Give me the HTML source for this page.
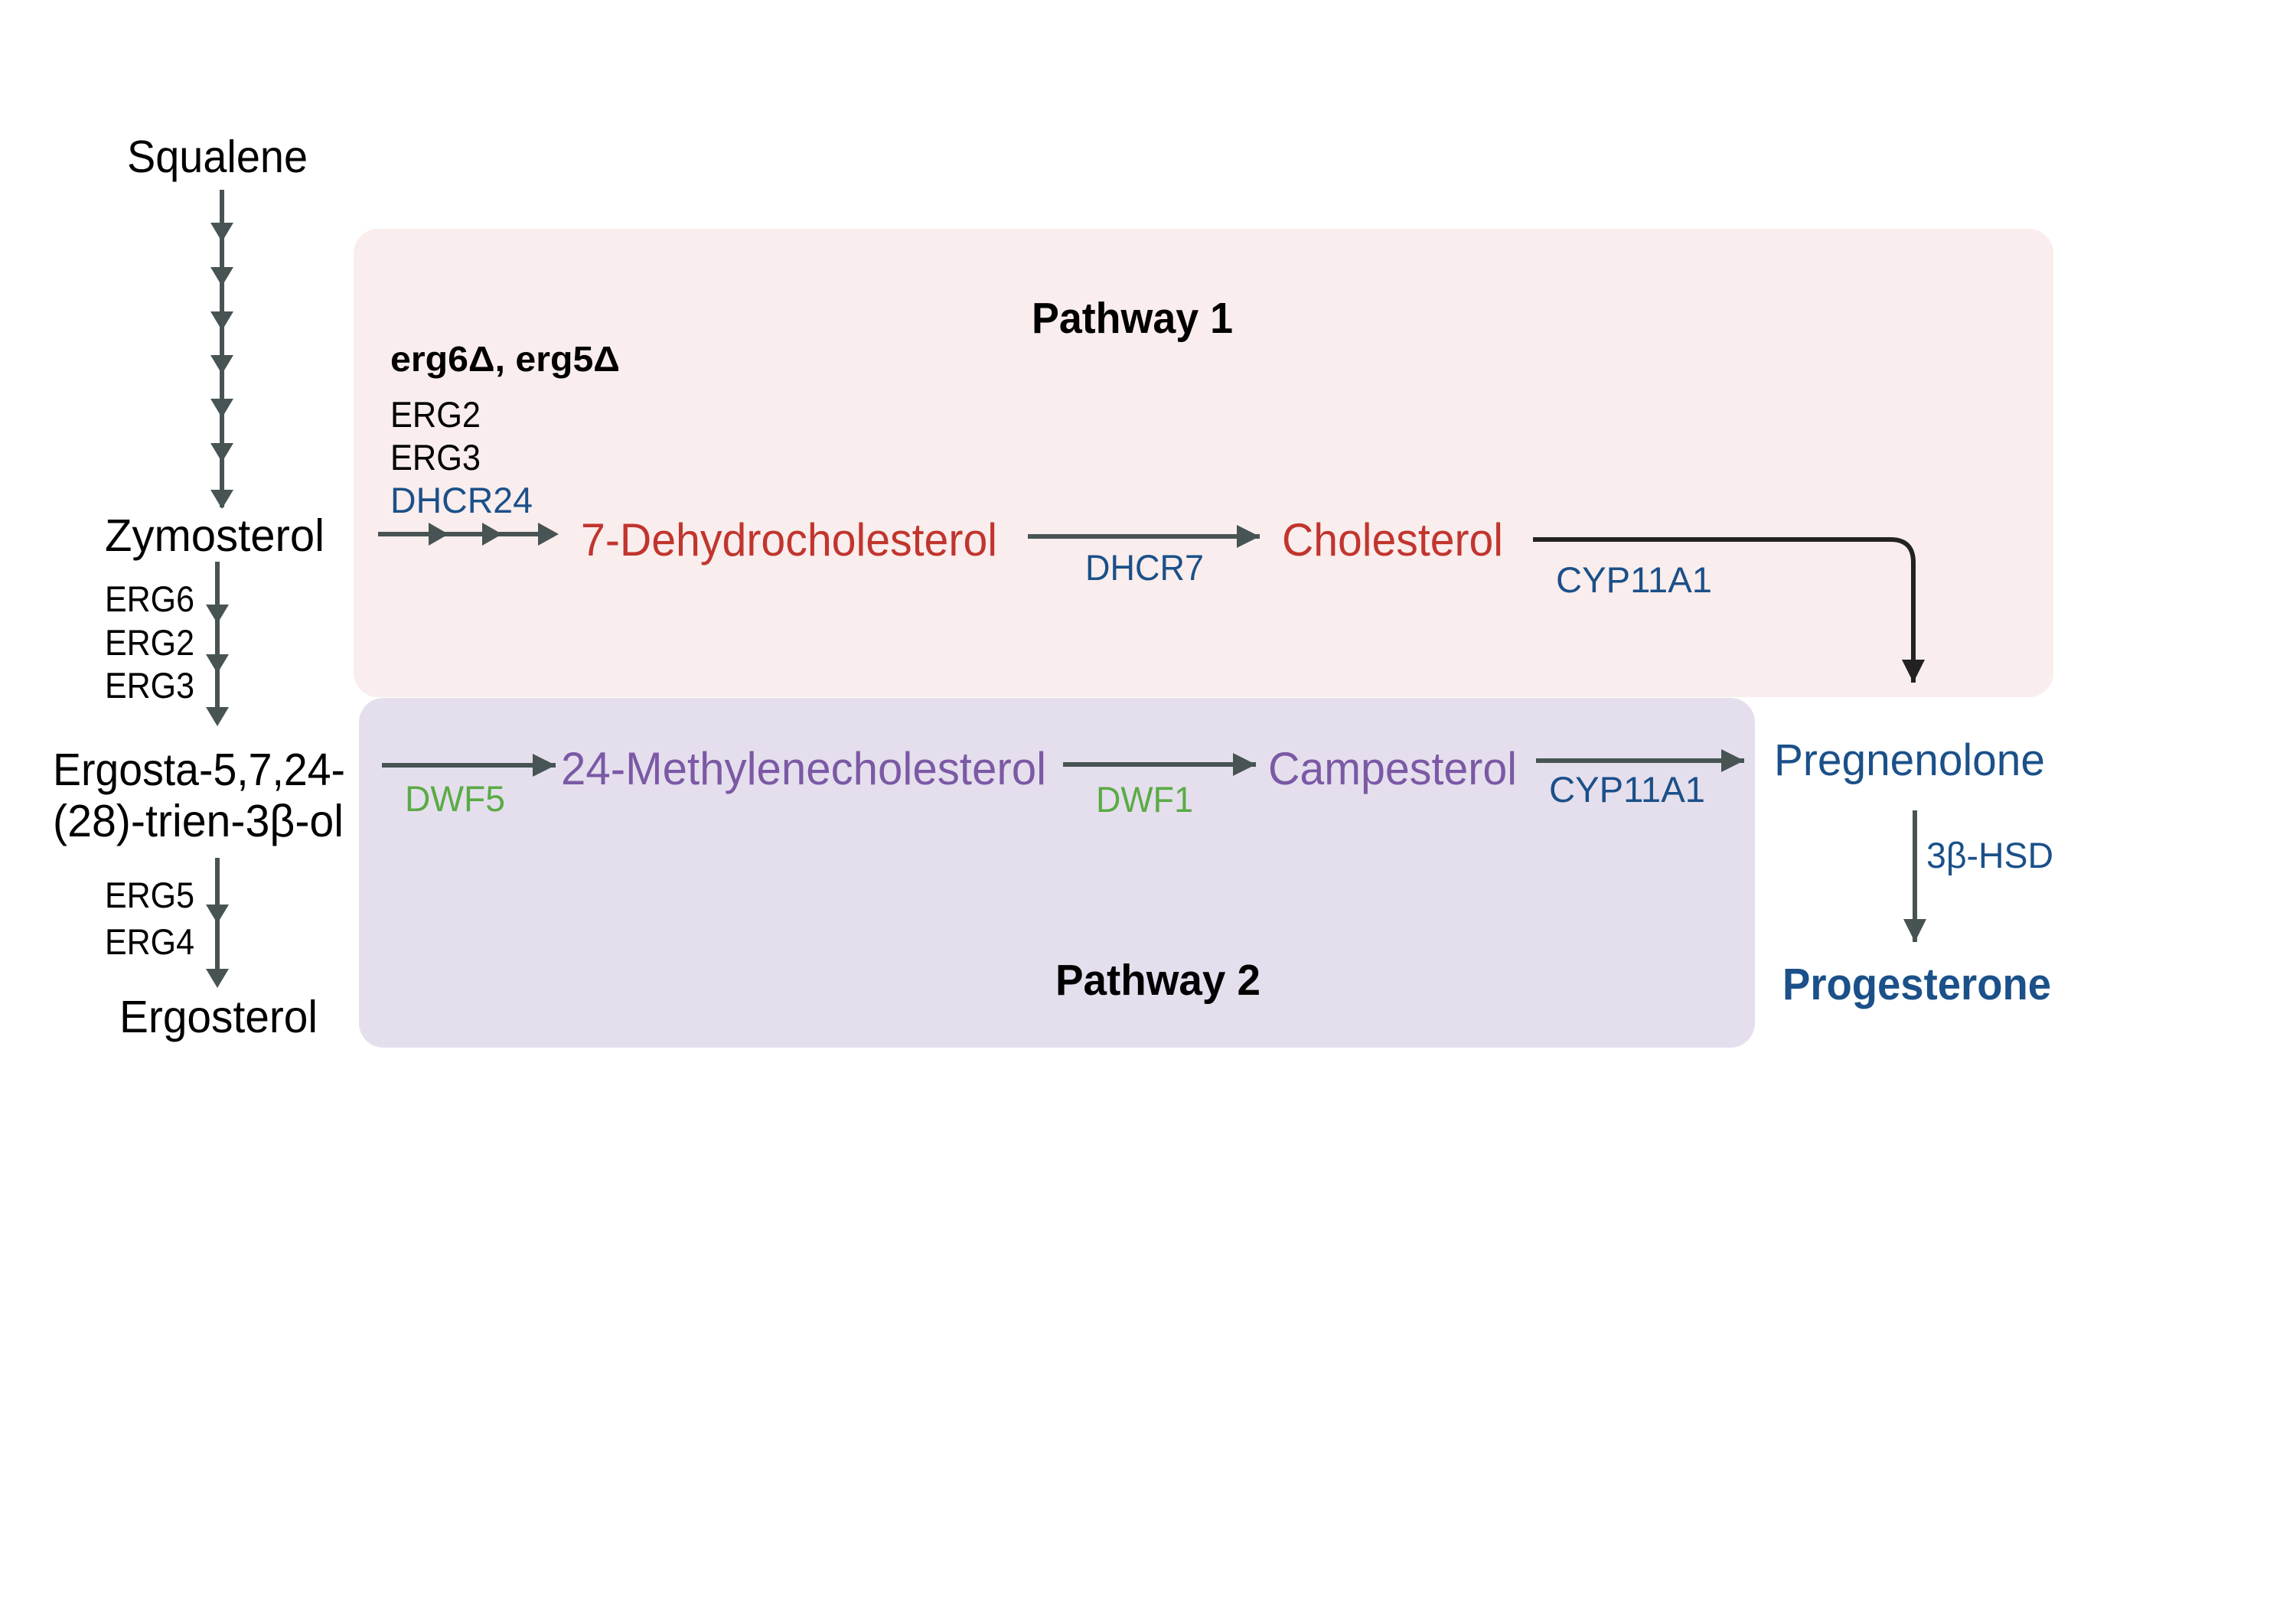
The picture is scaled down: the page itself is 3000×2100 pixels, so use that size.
<!DOCTYPE html>
<html><head><meta charset="utf-8"><style>
html,body{margin:0;padding:0;background:#fff;}
svg{display:block;}
text{font-family:"Liberation Sans",Arial,sans-serif;}
</style></head><body>
<svg width="3000" height="2100" viewBox="0 0 3000 2100" xmlns="http://www.w3.org/2000/svg">
<defs>
<marker id="ag" viewBox="0 0 30 30" refX="30" refY="15" markerWidth="30" markerHeight="30" markerUnits="userSpaceOnUse" orient="auto"><path d="M0,0 L30,15 L0,30 Z" fill="#475453"/></marker>
<marker id="ak" viewBox="0 0 30 30" refX="30" refY="15" markerWidth="30" markerHeight="30" markerUnits="userSpaceOnUse" orient="auto"><path d="M0,0 L30,15 L0,30 Z" fill="#222"/></marker>
</defs>
<rect x="0" y="0" width="3000" height="2100" fill="#fff"/>
<rect x="462" y="299" width="2221" height="612" rx="32" fill="#f9eded"/>
<rect x="469" y="912" width="1824" height="457" rx="32" fill="#e5dfed"/>

<g fill="#475453">
<rect x="287" y="248" width="6" height="415"/>
<path d="M275,291 L305,291 L290,316 Z"/>
<path d="M275,349 L305,349 L290,374 Z"/>
<path d="M275,407 L305,407 L290,432 Z"/>
<path d="M275,464 L305,464 L290,489 Z"/>
<path d="M275,521 L305,521 L290,546 Z"/>
<path d="M275,579 L305,579 L290,604 Z"/>
<path d="M275,640 L305,640 L290,665 Z"/>

<rect x="281" y="734" width="6" height="210"/>
<path d="M269,790 L299,790 L284,815 Z"/>
<path d="M269,855 L299,855 L284,880 Z"/>
<path d="M269,924 L299,924 L284,949 Z"/>

<rect x="281" y="1121" width="6" height="165"/>
<path d="M269,1182 L299,1182 L284,1207 Z"/>
<path d="M269,1266 L299,1266 L284,1291 Z"/>

<rect x="494" y="695" width="230" height="6"/>
<path d="M560,683 L586,698 L560,713 Z"/>
<path d="M630,683 L656,698 L630,713 Z"/>
<path d="M703,683 L730,698 L703,713 Z"/>
</g>

<g stroke="#475453" stroke-width="6" fill="none">
<line x1="499" y1="1000" x2="726" y2="1000" marker-end="url(#ag)"/>
<line x1="1343" y1="701" x2="1646" y2="701" marker-end="url(#ag)"/>
<line x1="1389" y1="999" x2="1641" y2="999" marker-end="url(#ag)"/>
<line x1="2007" y1="994" x2="2279" y2="994" marker-end="url(#ag)"/>
<line x1="2502" y1="1059" x2="2502" y2="1231" marker-end="url(#ag)"/>
</g>
<path d="M2003,705 L2470,705 Q2500,705 2500,735 L2500,892" stroke="#222" stroke-width="6" fill="none" marker-end="url(#ak)"/>

<g font-size="59" fill="#000">
<text x="166" y="225" textLength="236" lengthAdjust="spacingAndGlyphs">Squalene</text>
<text x="137" y="720" textLength="287" lengthAdjust="spacingAndGlyphs">Zymosterol</text>
<text x="69" y="1026" textLength="382" lengthAdjust="spacingAndGlyphs">Ergosta-5,7,24-</text>
<text x="69" y="1093" textLength="380" lengthAdjust="spacingAndGlyphs">(28)-trien-3β-ol</text>
<text x="156" y="1349" textLength="259" lengthAdjust="spacingAndGlyphs">Ergosterol</text>
</g>
<g font-size="47" fill="#000">
<text x="137" y="799" textLength="117" lengthAdjust="spacingAndGlyphs">ERG6</text>
<text x="137" y="856" textLength="117" lengthAdjust="spacingAndGlyphs">ERG2</text>
<text x="137" y="912" textLength="117" lengthAdjust="spacingAndGlyphs">ERG3</text>
<text x="137" y="1186" textLength="117" lengthAdjust="spacingAndGlyphs">ERG5</text>
<text x="137" y="1247" textLength="117" lengthAdjust="spacingAndGlyphs">ERG4</text>
<text x="510" y="558" textLength="118" lengthAdjust="spacingAndGlyphs">ERG2</text>
<text x="510" y="614" textLength="118" lengthAdjust="spacingAndGlyphs">ERG3</text>
</g>
<text x="510" y="485" font-size="46" font-weight="bold" fill="#000" textLength="300" lengthAdjust="spacingAndGlyphs">erg6Δ, erg5Δ</text>
<text x="510" y="670" font-size="47" fill="#1b5089" textLength="186" lengthAdjust="spacingAndGlyphs">DHCR24</text>

<text x="1348" y="435" font-size="57" font-weight="bold" fill="#000" textLength="263" lengthAdjust="spacingAndGlyphs">Pathway 1</text>
<text x="1379" y="1300" font-size="57" font-weight="bold" fill="#000" textLength="268" lengthAdjust="spacingAndGlyphs">Pathway 2</text>

<g font-size="60" fill="#c1352e">
<text x="759" y="726" textLength="544" lengthAdjust="spacingAndGlyphs">7-Dehydrocholesterol</text>
<text x="1675" y="726" textLength="289" lengthAdjust="spacingAndGlyphs">Cholesterol</text>
</g>
<g font-size="60" fill="#7b59a5">
<text x="733" y="1025" textLength="634" lengthAdjust="spacingAndGlyphs">24-Methylenecholesterol</text>
<text x="1657" y="1025" textLength="325" lengthAdjust="spacingAndGlyphs">Campesterol</text>
</g>
<g font-size="47" fill="#5aab45">
<text x="529" y="1060" textLength="131" lengthAdjust="spacingAndGlyphs">DWF5</text>
<text x="1432" y="1061" textLength="127" lengthAdjust="spacingAndGlyphs">DWF1</text>
</g>
<g font-size="47" fill="#1b5089">
<text x="1418" y="758" textLength="155" lengthAdjust="spacingAndGlyphs">DHCR7</text>
<text x="2033" y="774" textLength="204" lengthAdjust="spacingAndGlyphs">CYP11A1</text>
<text x="2024" y="1048" textLength="204" lengthAdjust="spacingAndGlyphs">CYP11A1</text>
<text x="2517" y="1134" textLength="166" lengthAdjust="spacingAndGlyphs">3β-HSD</text>
</g>
<text x="2318" y="1013" font-size="58" fill="#1b5089" textLength="354" lengthAdjust="spacingAndGlyphs">Pregnenolone</text>
<text x="2329" y="1306" font-size="58" font-weight="bold" fill="#1b5089" textLength="351" lengthAdjust="spacingAndGlyphs">Progesterone</text>
</svg>
</body></html>
